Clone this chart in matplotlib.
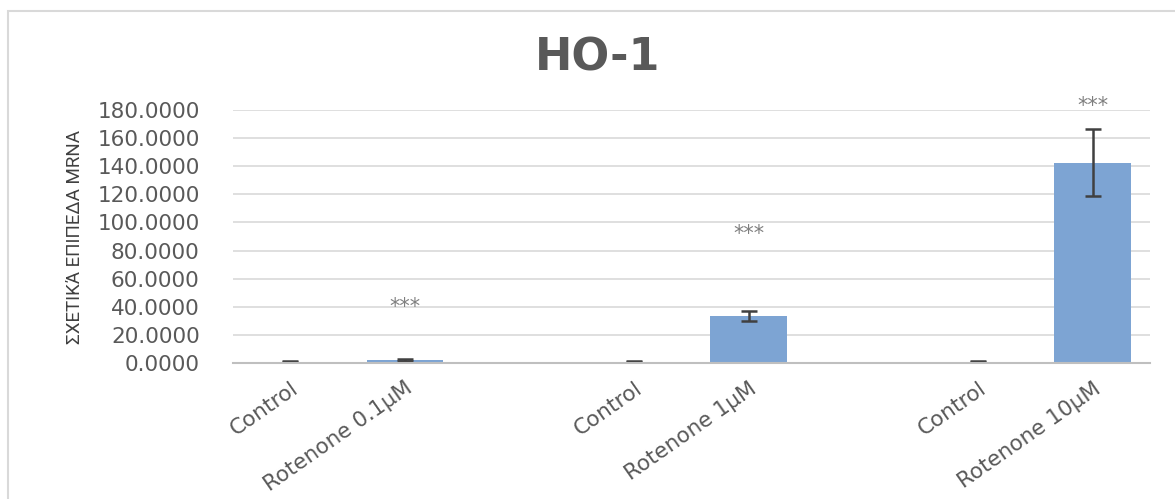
import matplotlib.pyplot as plt
from matplotlib.patches import Rectangle
import numpy as np

# group labels, blanks act as spacers between the three experiments
labels = ['Control', 'Rotenone 0.1μM', '', 'Control', 'Rotenone 1μM', '', 'Control', 'Rotenone 10μM']
means = [1.0, 1.8, np.nan, 1.0, 33.5, np.nan, 1.0, 142.5]
errors = [0.3, 0.7, np.nan, 0.3, 3.8, np.nan, 0.3, 24.0]
star_heights = [np.nan, 40.0, np.nan, np.nan, 91.5, np.nan, np.nan, 183.0]
star_text = '***'

grey = '#595959'
bar_color = '#7DA4D3'

plt.rcParams['font.family'] = ['DejaVu Sans']

fig = plt.figure(figsize=(11.75, 4.99), dpi=100)
ax = fig.add_axes([233 / 1175, 1 - 363 / 499, 917 / 1175, 253 / 499])

x = np.arange(len(labels))
ax.bar(x, means, width=0.67, color=bar_color, zorder=2)
ax.errorbar(x, means, yerr=errors, fmt='none', ecolor='#404040', elinewidth=1.8,
            capsize=6, capthick=1.8, zorder=3)

for xi, h in zip(x, star_heights):
    if not np.isnan(h):
        ax.text(xi, h, star_text, ha='center', va='center', fontsize=15,
                color='#7F7F7F', clip_on=False)

ax.set_xlim(-0.5, len(labels) - 0.5)
ax.set_ylim(0, 180)
ax.set_yticks(np.arange(0, 181, 20))
ax.set_yticklabels([f'{v:.4f}' for v in np.arange(0, 181, 20)])
ax.set_xticks(x)
ax.set_xticklabels(labels, rotation=35, ha='right', rotation_mode='anchor')
ax.tick_params(axis='both', length=0, labelsize=15.5, colors=grey)
ax.tick_params(axis='x', pad=11)
ax.tick_params(axis='y', pad=24)

ax.yaxis.grid(True, color='#D9D9D9', linewidth=1.2, zorder=0)
ax.set_axisbelow(True)
for side in ['top', 'right', 'left']:
    ax.spines[side].set_visible(False)
ax.spines['bottom'].set_color('#BFBFBF')
ax.spines['bottom'].set_linewidth(1.5)
ax.spines['bottom'].set_zorder(4)

ax.set_ylabel('ΣΧΕΤΙΚΆ ΕΠΙΠΕΔΑ MRNA', fontsize=13.5, color='#404040',
              family=['Roboto', 'DejaVu Sans'])
ax.yaxis.set_label_coords(-0.163, 0.5)

fig.text(598 / 1175, 1 - 58 / 499, 'HO-1', ha='center', va='center',
         fontsize=32, fontweight='bold', color=grey)

# chart frame
fig.add_artist(Rectangle((8 / 1175, -0.1), 1.2, 1.1 - 11 / 499, transform=fig.transFigure,
                         fill=False, edgecolor='#D9D9D9', linewidth=1.5))

fig.savefig('out.png', dpi=100)
